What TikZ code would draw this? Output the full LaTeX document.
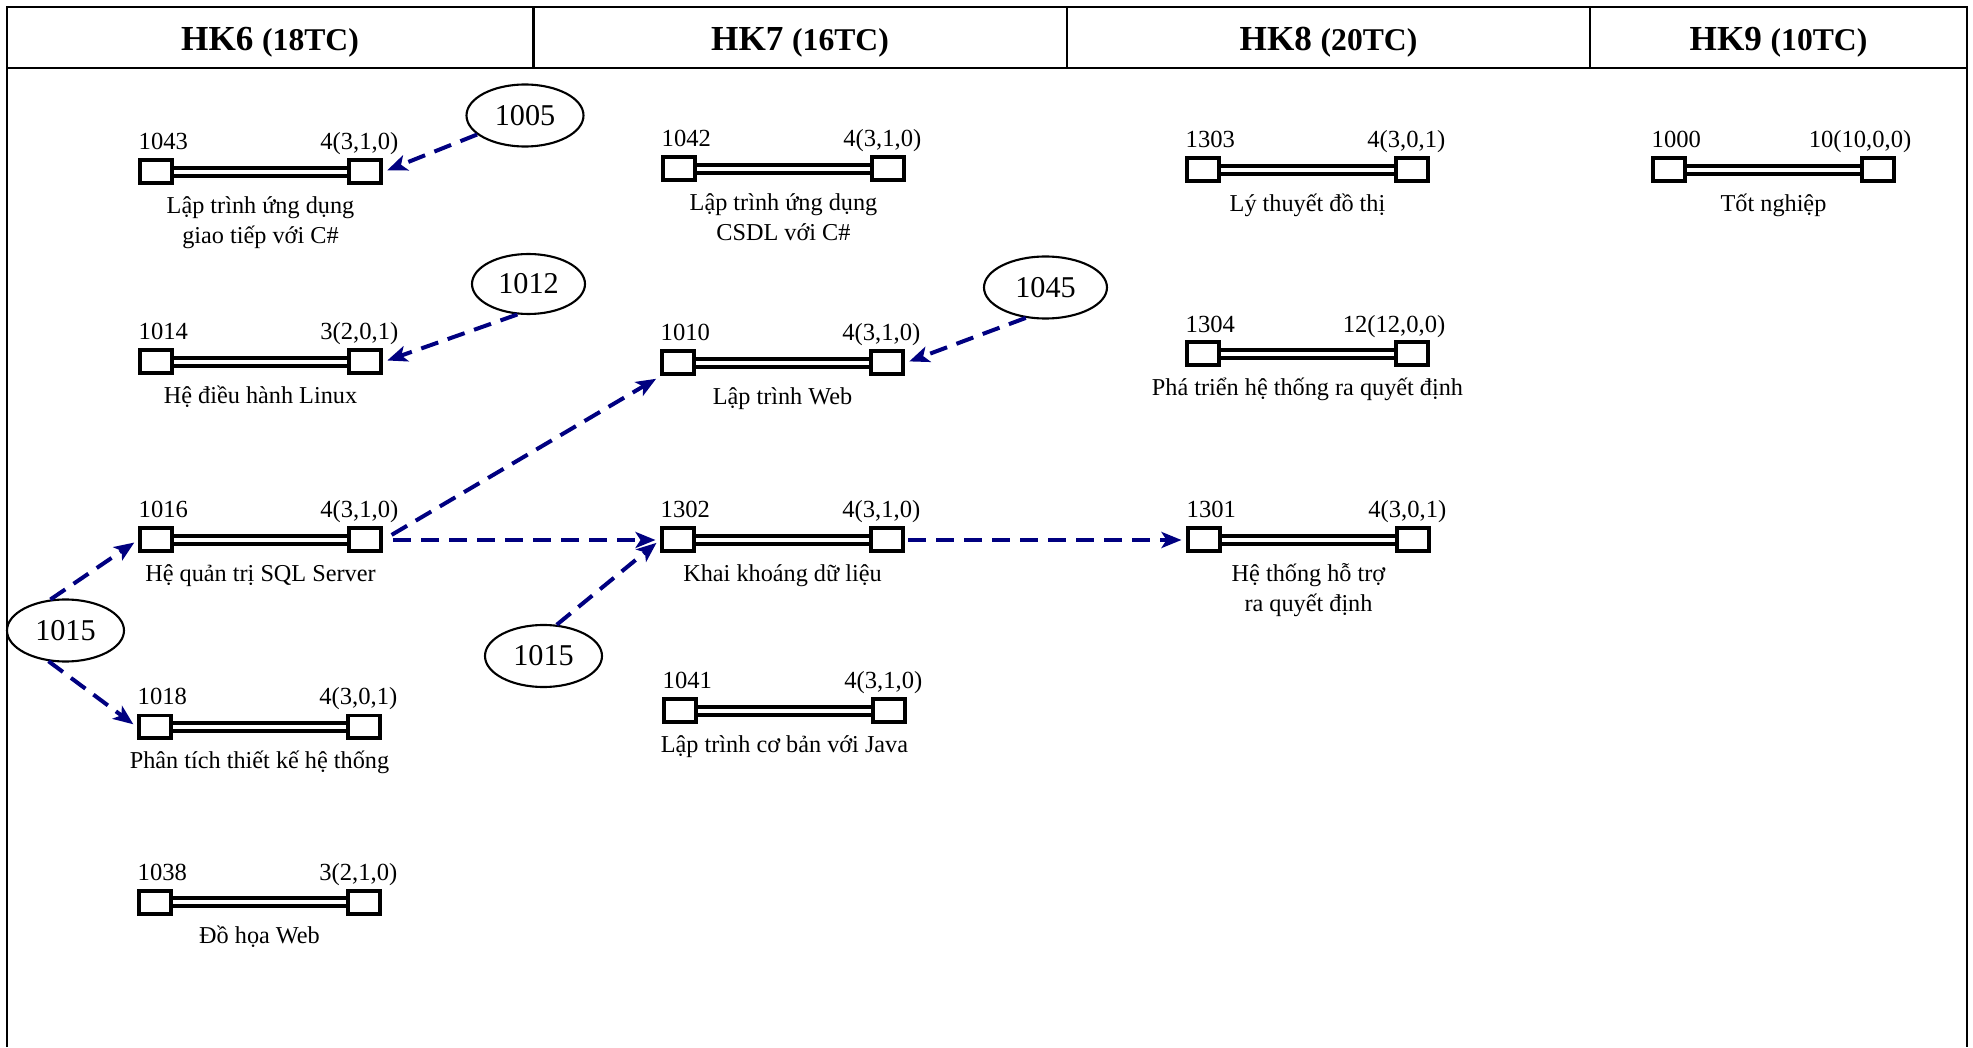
\documentclass[tikz,border=0pt]{standalone}
\usepackage{fontspec}
\setmainfont{Liberation Serif}
\usetikzlibrary{arrows.meta,shapes,positioning}

\newcommand{\course}[6]{%
  \node[sq] (#1a) at (#2,#3) {};
  \node[sq, right=1.73cm of #1a] (#1b) {};
  \draw[bar] (#1a.east) -- node[cname] (#1n) {\strut #6} (#1b.west);
  \node[num, anchor=base west] (#1code) at ([yshift=0.085cm]#1a.north west) {#4};
  \node[num, anchor=base east] (#1tc) at ([xshift=0.16cm,yshift=0.085cm]#1b.north east) {#5};
}

\begin{document}
\begin{tikzpicture}[
  sq/.style={draw, line width=0.04cm, fill=white, minimum width=0.32cm, minimum height=0.23cm, inner sep=0},
  bar/.style={double, line width=0.04cm, double distance=0.04cm},
  num/.style={inner sep=0, font=\fontsize{7}{8.5}\selectfont},
  cname/.style={anchor=north, yshift=-0.185cm, inner sep=0, align=center, font=\fontsize{6.9}{8.5}\selectfont},
  bubble/.style={draw, ellipse, line width=0.6pt, minimum width=1.17cm, minimum height=0.62cm, inner sep=0, font=\fontsize{8.6}{10}\selectfont},
  head/.style={anchor=base, font=\fontsize{10}{12}\selectfont\bfseries},
  dep/.style={draw=blue!50!black, line width=0.04cm, dash pattern=on 0.18cm off 0.1cm, -{Stealth[length=0.2cm, width=0.16cm, inset=0.05cm]}, shorten >=0.045cm}
]
\useasboundingbox (0,0) rectangle (19.73,10.47);

% table frame
\draw[line width=0.6pt] (0.067,0) -- (0.067,10.40) -- (19.67,10.40) -- (19.67,0);
\draw[line width=0.6pt] (0.067,9.79) -- (19.67,9.79);
\draw[line width=0.6pt] (5.335,10.40) -- (5.335,9.79) (10.67,10.40) -- (10.67,9.79) (15.90,10.40) -- (15.90,9.79);

\node[head] (h6) at (2.70,9.96) {HK6 {\fontsize{9}{11}\selectfont(18TC)}};
\node[head] (h7) at (8.00,9.96) {HK7 {\fontsize{9}{11}\selectfont(16TC)}};
\node[head] (h8) at (13.285,9.96) {HK8 {\fontsize{9}{11}\selectfont(20TC)}};
\node[head] (h9) at (17.785,9.96) {HK9 {\fontsize{9}{11}\selectfont(10TC)}};

% HK6
\course{c1043}{1.56}{8.75}{1043}{4(3,1,0)}{Lập trình ứng dụng\\giao tiếp với C\#}
\course{c1014}{1.56}{6.85}{1014}{3(2,0,1)}{Hệ điều hành Linux}
\course{c1016}{1.56}{5.07}{1016}{4(3,1,0)}{Hệ quản trị SQL Server}
\course{c1018}{1.55}{3.20}{1018}{4(3,0,1)}{Phân tích thiết kế hệ thống}
\course{c1038}{1.55}{1.45}{1038}{3(2,1,0)}{Đồ họa Web}
% HK7
\course{c1042}{6.79}{8.78}{1042}{4(3,1,0)}{Lập trình ứng dụng\\CSDL với C\#}
\course{c1010}{6.78}{6.84}{1010}{4(3,1,0)}{Lập trình Web}
\course{c1302}{6.78}{5.07}{1302}{4(3,1,0)}{Khai khoáng dữ liệu}
\course{c1041}{6.80}{3.36}{1041}{4(3,1,0)}{Lập trình cơ bản với Java}
% HK8
\course{c1303}{12.03}{8.77}{1303}{4(3,0,1)}{Lý thuyết đồ thị}
\course{c1304}{12.03}{6.93}{1304}{12(12,0,0)}{Phá triển hệ thống ra quyết định}
\course{c1301}{12.04}{5.07}{1301}{4(3,0,1)}{Hệ thống hỗ trợ\\ra quyết định}
% HK9
\course{c1000}{16.69}{8.77}{1000}{10(10,0,0)}{Tốt nghiệp}

% prerequisites
\node[bubble] (e1005) at (5.25,9.315) {1005};
\node[bubble, minimum width=1.13cm, minimum height=0.6cm] (e1012) at (5.285,7.63) {1012};
\node[bubble, minimum width=1.23cm] (e1045) at (10.455,7.595) {1045};
\node[bubble] (e1015a) at (0.655,4.165) {1015};
\node[bubble] (e1015b) at (5.435,3.91) {1015};

\draw[dep] (e1005) -- (c1043b.east);
\draw[dep] (e1012.250) -- (c1014b.east);
\draw[dep] (e1045.237) -- (c1010b.east);
\draw[dep] (e1015a.116) -- (c1016a.west);
\draw[dep] (e1015a.241) -- (c1018a.west);
\draw[dep, shorten <=0.1cm] (c1016b.east) -- (c1010a.south west);
\draw[dep, shorten <=0.1cm] (c1016b.east) -- (c1302a.west);
\draw[dep] (e1015b.67) -- (c1302a.west);
\draw[dep, shorten <=0.03cm] (c1302b.east) -- (c1301a.west);
\end{tikzpicture}
\end{document}
